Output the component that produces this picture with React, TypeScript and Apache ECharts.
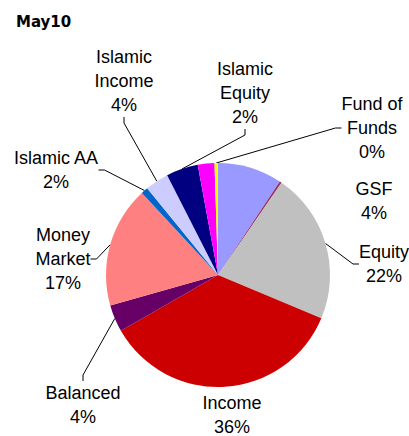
import React, { useEffect, useRef } from "react";
import * as echarts from "echarts";

// Slices in drawing order (clockwise from 12 o'clock), shares (%)
const sliceNames = [
  "Unlabelled A",
  "GSF",
  "Equity",
  "Income",
  "Balanced",
  "Money Market",
  "Islamic AA",
  "Islamic Income",
  "Islamic Equity",
  "Unlabelled B",
  "Fund of Funds",
];
const sliceShares = [9.3, 0.3, 21.7, 35.4, 3.9, 17.5, 1.0, 3.4, 4.6, 2.4, 0.5];
// Text shown on the labels (as printed on the chart)
const labelTexts = [
  "",
  "GSF\n4%",
  "Equity\n22%",
  "Income\n36%",
  "Balanced\n4%",
  "Money\nMarket\n17%",
  "Islamic AA\n2%",
  "Islamic\nIncome\n4%",
  "Islamic\nEquity\n2%",
  "",
  "Fund of\nFunds\n0%",
];
const sliceColors = [
  "#9999FF",
  "#993366",
  "#C0C0C0",
  "#CC0000",
  "#660066",
  "#FF8080",
  "#0066CC",
  "#CCCCFF",
  "#000080",
  "#FF00FF",
  "#FFFF00",
];
const hasLeader = [false, false, true, false, true, true, true, true, true, false, true];

// label block centres (layout)
const labelPos: Record<number, [number, number]> = {
  1: [374, 201],
  2: [384, 264],
  3: [232, 415],
  4: [83, 405],
  5: [63, 259],
  6: [56, 170],
  7: [124, 81],
  8: [245, 93],
  10: [372, 128],
};

export default function App() {
  const ref = useRef<HTMLDivElement>(null);
  useEffect(() => {
    document.body.style.margin = "0";
    const chart = echarts.init(ref.current!, undefined, { renderer: "svg" });
    const data = sliceNames.map((name, i) => ({
      name,
      value: sliceShares[i],
      itemStyle: { color: sliceColors[i] },
      label: { show: labelTexts[i] !== "" },
      labelLine: { show: hasLeader[i] },
    }));
    chart.setOption({
      animation: false,
      backgroundColor: "#ffffff",
      title: {
        text: "May10",
        left: 11,
        top: 9,
        textStyle: {
          fontFamily: "DejaVu Sans",
          fontWeight: "bold",
          fontSize: 15,
          color: "#000",
        },
      },
      series: [
        {
          type: "pie",
          center: [218, 275],
          radius: 112,
          startAngle: 90,
          clockwise: true,
          avoidLabelOverlap: false,
          itemStyle: { borderWidth: 0 },
          emphasis: { disabled: true },
          label: {
            position: "outside",
            formatter: (p: any) => labelTexts[p.dataIndex],
            fontFamily: "Liberation Sans",
            fontSize: 18,
            lineHeight: 24,
            color: "#000",
            align: "center",
          },
          labelLine: {
            length: 10,
            length2: 6,
            lineStyle: { color: "#000", width: 1 },
          },
          labelLayout: (params: any) => {
            const p = labelPos[params.dataIndex];
            if (!p) return {};
            return { x: p[0], y: p[1], align: "center", verticalAlign: "middle" };
          },
          data,
        },
      ],
    });
    return () => chart.dispose();
  }, []);
  return <div ref={ref} style={{ width: 409, height: 436 }} />;
}
